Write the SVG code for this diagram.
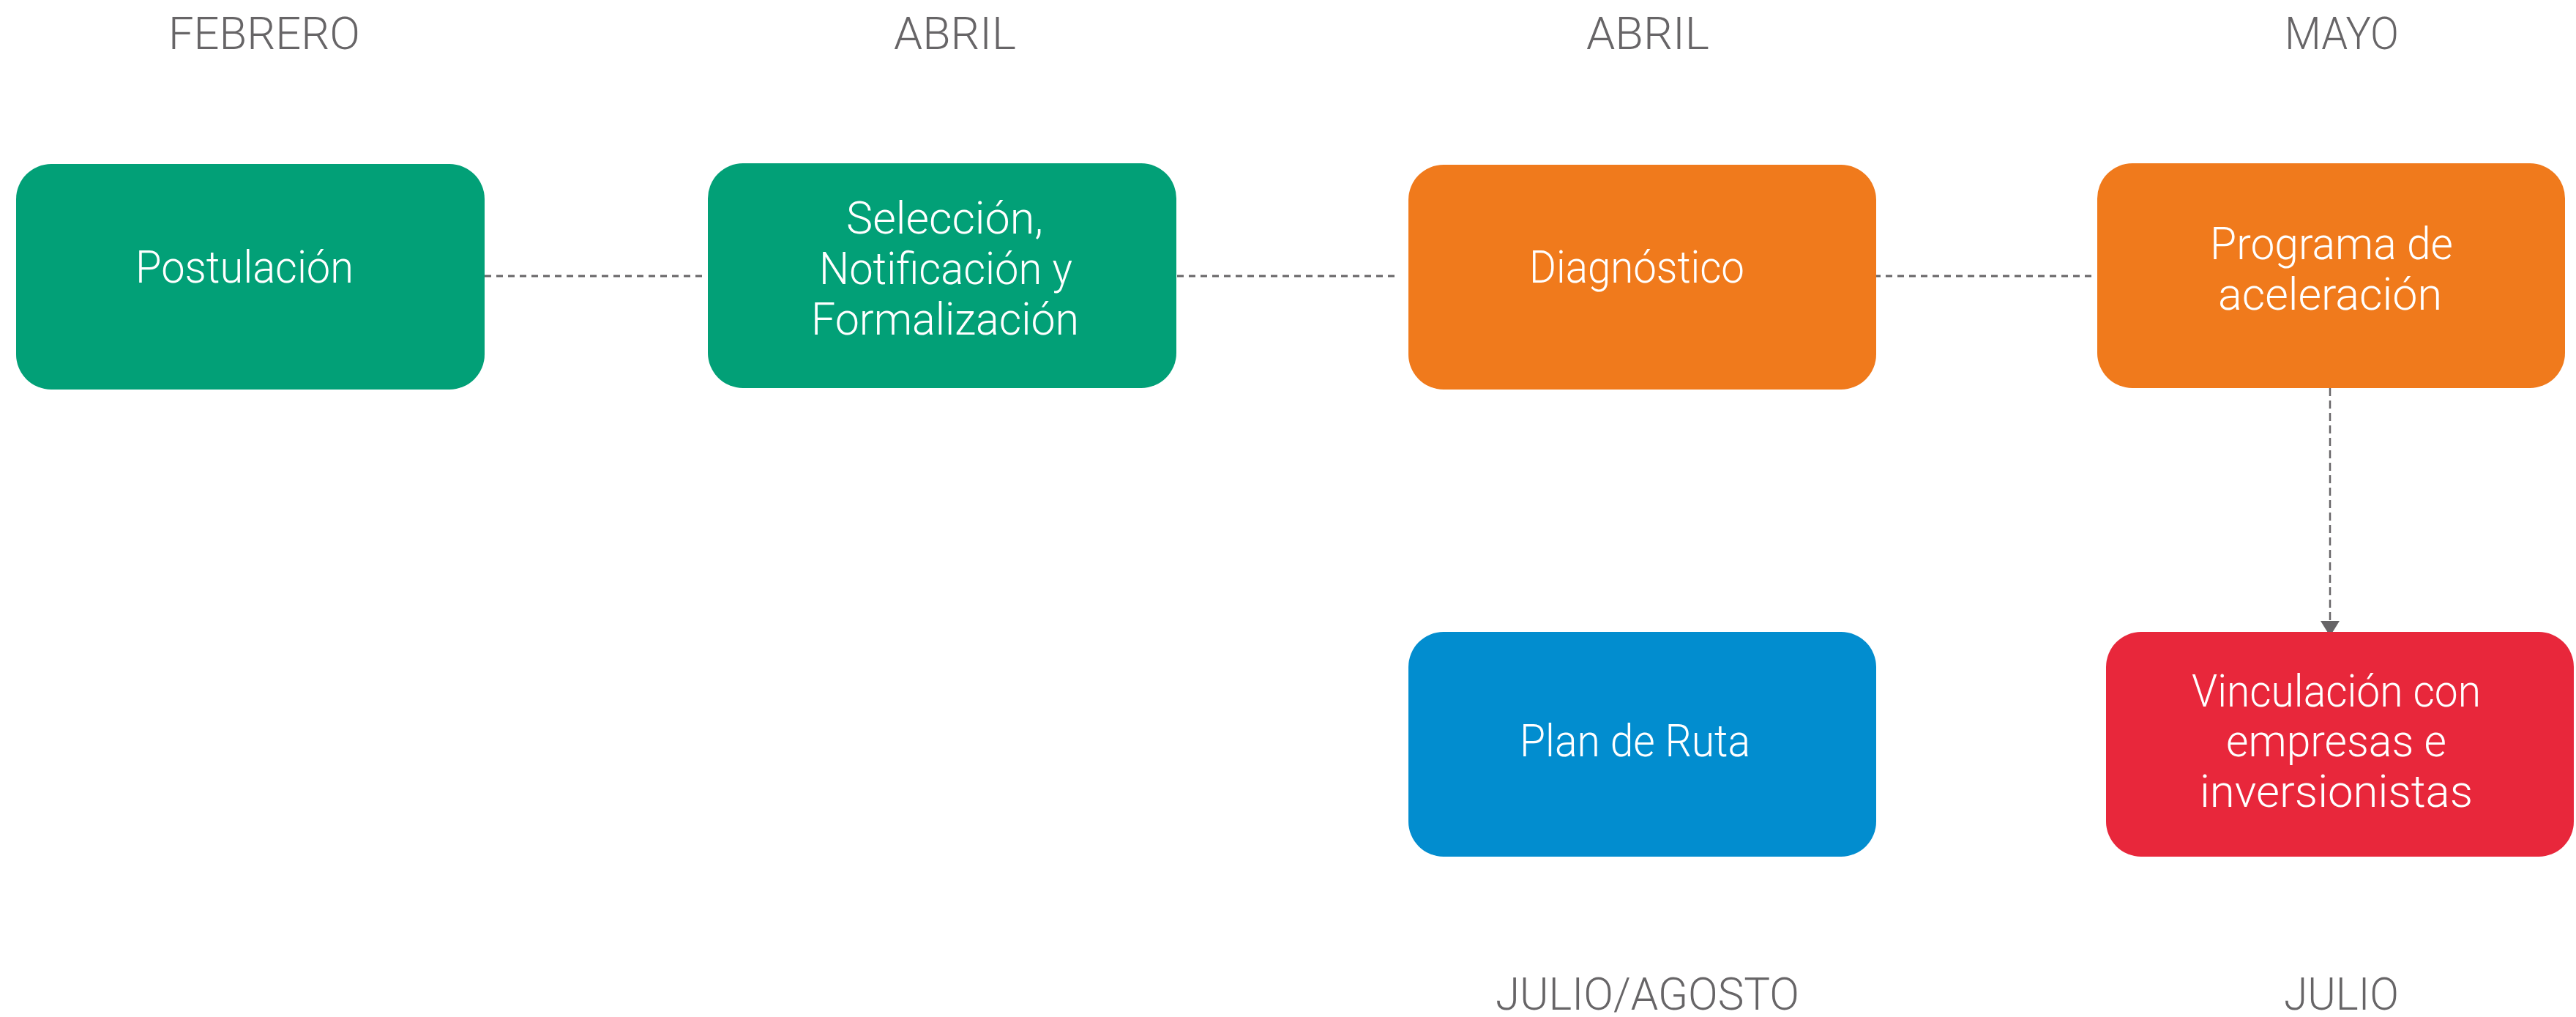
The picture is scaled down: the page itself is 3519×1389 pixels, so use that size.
<svg xmlns="http://www.w3.org/2000/svg" width="3519" height="1389" viewBox="0 0 3519 1389">
<defs>
<style>
.lbl{font-family:Roboto,"Liberation Sans",sans-serif;font-weight:300;font-size:62px;fill:#676567}
.nt{font-family:Roboto,"Liberation Sans",sans-serif;font-weight:300;font-size:62px;fill:#ffffff}
.box{stroke:none}
.green{fill:#02A077}
.orange{fill:#F07A1C}
.blue{fill:#028DCF}
.red{fill:#E8273B}
.hd{fill:none;stroke:#676567;stroke-width:3;stroke-dasharray:9 7}
.vd{fill:none;stroke:#676567;stroke-width:2.5;stroke-dasharray:11 6}
</style>
<marker id="arr" markerUnits="userSpaceOnUse" viewBox="0 0 21 26" refX="21" refY="13" markerWidth="21" markerHeight="26" orient="auto">
<path d="M0,0 L21,13 L0,26 Z" fill="#676567"/>
</marker>
</defs>
<rect width="3519" height="1389" fill="#ffffff"/>

<g id="month-labels">
<text class="lbl" x="230" y="67" textLength="262" lengthAdjust="spacingAndGlyphs">FEBRERO</text>
<text class="lbl" x="1221" y="67" textLength="167" lengthAdjust="spacingAndGlyphs">ABRIL</text>
<text class="lbl" x="2167" y="67" textLength="168" lengthAdjust="spacingAndGlyphs">ABRIL</text>
<text class="lbl" x="3121" y="67" textLength="156" lengthAdjust="spacingAndGlyphs">MAYO</text>
<text class="lbl" x="2043" y="1379" textLength="415" lengthAdjust="spacingAndGlyphs">JULIO/AGOSTO</text>
<text class="lbl" x="3120" y="1379" textLength="157" lengthAdjust="spacingAndGlyphs">JULIO</text>
</g>

<g id="connectors">
<line class="hd" x1="662" y1="377" x2="966" y2="377"/>
<line class="hd" x1="1608" y1="377" x2="1911" y2="377"/>
<line class="hd" x1="2560" y1="377" x2="2862" y2="377"/>
<line class="vd" x1="3183" y1="530" x2="3183" y2="869" marker-end="url(#arr)"/>
</g>

<g id="postulacion">
<rect class="box green" x="22" y="224" width="640" height="308" rx="48" ry="48"/>
<text class="nt" x="185" y="386" textLength="298" lengthAdjust="spacingAndGlyphs">Postulación</text>
</g>

<g id="seleccion">
<rect class="box green" x="967" y="223" width="640" height="307" rx="48" ry="48"/>
<text class="nt" x="1156" y="319" textLength="269" lengthAdjust="spacingAndGlyphs">Selección,</text>
<text class="nt" x="1119" y="388" textLength="346" lengthAdjust="spacingAndGlyphs">Notificación y</text>
<text class="nt" x="1108" y="457" textLength="366" lengthAdjust="spacingAndGlyphs">Formalización</text>
</g>

<g id="diagnostico">
<rect class="box orange" x="1924" y="225" width="639" height="307" rx="48" ry="48"/>
<text class="nt" x="2089" y="386" textLength="294" lengthAdjust="spacingAndGlyphs">Diagnóstico</text>
</g>

<g id="programa">
<rect class="box orange" x="2865" y="223" width="639" height="307" rx="48" ry="48"/>
<text class="nt" x="3019" y="354" textLength="332" lengthAdjust="spacingAndGlyphs">Programa de</text>
<text class="nt" x="3030" y="423" textLength="306" lengthAdjust="spacingAndGlyphs">aceleración</text>
</g>

<g id="plan-de-ruta">
<rect class="box blue" x="1924" y="863" width="639" height="307" rx="48" ry="48"/>
<text class="nt" x="2076" y="1033" textLength="315" lengthAdjust="spacingAndGlyphs">Plan de Ruta</text>
</g>

<g id="vinculacion">
<rect class="box red" x="2877" y="863" width="639" height="307" rx="48" ry="48"/>
<text class="nt" x="2994" y="965" textLength="395" lengthAdjust="spacingAndGlyphs">Vinculación con</text>
<text class="nt" x="3041" y="1033" textLength="301" lengthAdjust="spacingAndGlyphs">empresas e</text>
<text class="nt" x="3005" y="1102" textLength="373" lengthAdjust="spacingAndGlyphs">inversionistas</text>
</g>
</svg>
